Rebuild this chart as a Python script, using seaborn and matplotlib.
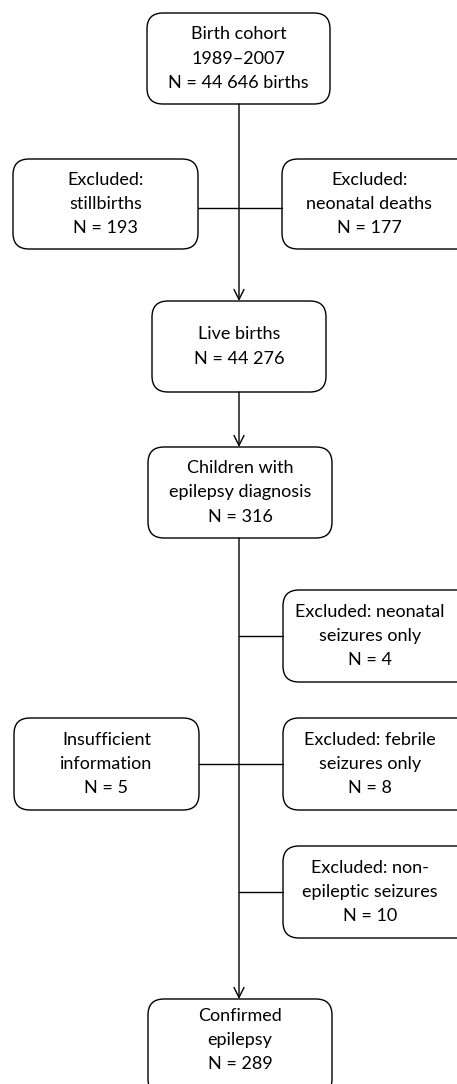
import matplotlib
matplotlib.use("Agg")
import matplotlib.pyplot as plt
from matplotlib.patches import FancyBboxPatch
import seaborn as sns

sns.set_theme(style="white")
plt.rcParams['font.family'] = ['Lato', 'DejaVu Sans']

# Data: node labels and counts
titles = ["Birth cohort\n1989\u20132007", "Excluded:\nstillbirths", "Excluded:\nneonatal deaths",
          "Live births", "Children with\nepilepsy diagnosis", "Excluded: neonatal\nseizures only",
          "Insufficient\ninformation", "Excluded: febrile\nseizures only",
          "Excluded: non-\nepileptic seizures", "Confirmed\nepilepsy"]
counts = ["44 646 births", "193", "177", "44 276", "316", "4", "5", "8", "10", "289"]

# Layout (pixel coordinates: x0, y0, x1, y1)
boxes = [(147, 13, 330, 104), (13, 159, 198, 249), (282, 159, 475, 249),
         (152, 301, 326, 392), (148, 447, 332, 538), (283, 590, 475, 682),
         (14, 718, 199, 810), (283, 718, 475, 810), (283, 846, 475, 938),
         (148, 999, 332, 1095)]

W, H = 457, 1084
fig = plt.figure(figsize=(W / 100, H / 100), dpi=100)
ax = fig.add_axes([0, 0, 1, 1])
ax.set_xlim(0, W)
ax.set_ylim(H, 0)
ax.axis("off")

r = 16
for (x0, y0, x1, y1), t, c in zip(boxes, titles, counts):
    p = FancyBboxPatch((x0 + r, y0 + r), (x1 - x0) - 2 * r, (y1 - y0) - 2 * r,
                       boxstyle=f"round,pad={r}", fc="white", ec="black", lw=1.0)
    ax.add_patch(p)
    tx = (x0 + min(x1, W)) / 2
    ty = (y0 + y1) / 2 if y1 <= H else 1040
    ax.text(tx, ty, f"{t}\nN = {c}", ha="center", va="center",
            fontsize=13, linespacing=1.62, color="black")

cx = 239
lw = 1.0

def arrow(y0, y1):
    ax.annotate("", xy=(cx, y1), xytext=(cx, y0),
                arrowprops=dict(arrowstyle="->,head_length=0.6,head_width=0.3", lw=lw, color="black",
                                shrinkA=0, shrinkB=0))

arrow(104, 301)
arrow(392, 447)
arrow(538, 999)
# horizontal connectors
ax.plot([198, 282], [208, 208], color="black", lw=lw)
ax.plot([cx, 283], [636, 636], color="black", lw=lw)
ax.plot([199, 283], [764, 764], color="black", lw=lw)
ax.plot([cx, 283], [892, 892], color="black", lw=lw)

fig.savefig("out.png", dpi=100, facecolor="white")
